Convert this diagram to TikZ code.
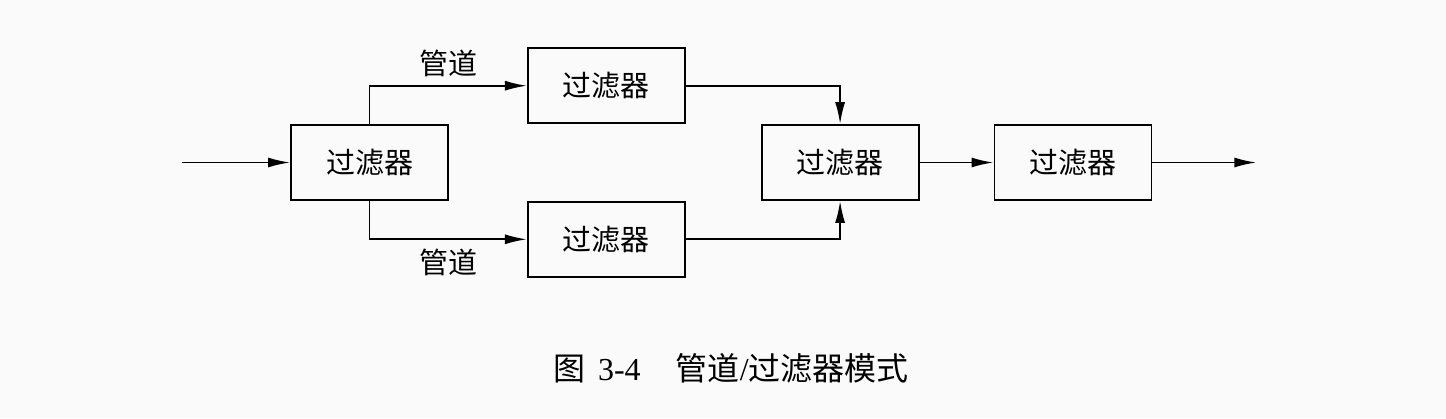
\documentclass[tikz,border=0pt]{standalone}
\usepackage{fontspec}
\setmainfont{Liberation Serif}
\newfontfamily\cjk{Noto Sans CJK SC}
\usetikzlibrary{arrows.meta, positioning}

\begin{document}
\begin{tikzpicture}[x=1pt, y=-1pt, >={Latex[length=22pt,width=10pt]}, line width=1.8pt,
  filter/.style={draw, minimum width=157pt, minimum height=75pt, inner sep=0pt,
    font=\fontsize{29}{29}\selectfont\cjk},
  pipe/.style={font=\fontsize{29}{29}\selectfont\cjk}]

% background, fixes the margins
  \useasboundingbox[fill=black!2] (0,0) rectangle (1446,418);

% define the filters
  \node[filter]    (f1) at (369.5,162.5) {过滤器};
  \node[filter]    (f2) [above right=0pt and 78pt of f1] {过滤器};
  \node[filter]    (f3) [below right=0pt and 78pt of f1] {过滤器};
  \node[filter]    (f4) [below right=0pt and 75pt of f2] {过滤器};
  \node[filter]    (f5) [right=74pt of f4] {过滤器};

% free ends
  \coordinate[left=108pt of f1]  (in);
  \coordinate[right=104pt of f5] (out);

% define the pipes
  \draw[->] (in) -- (f1);
  \draw[->] (f1.north) |- node[pipe, pos=0.75, above=5pt] {管道} (f2);
  \draw[->] (f1.south) |- node[pipe, pos=0.75, below=5pt] {管道} (f3);
  \draw[->] (f2) -| (f4.north);
  \draw[->] (f3) -| (f4.south);
  \draw[->] (f4) -- (f5);
  \draw[->] (f5) -- (out);

% caption
  \node[font=\fontsize{32}{32}\selectfont] (cap) at (731,368)
    {{\cjk 图}\hspace{0.4em}3-4\hspace{1.1em}{\cjk 管道}/{\cjk 过滤器模式}};

\end{tikzpicture}
\end{document}
